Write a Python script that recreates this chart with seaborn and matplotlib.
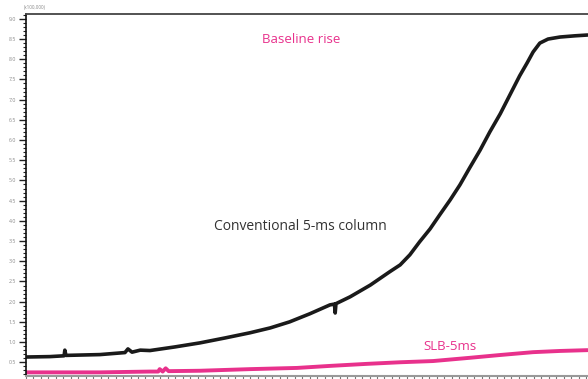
import numpy as np
import pandas as pd
import matplotlib
matplotlib.use("Agg")
import matplotlib.pyplot as plt
import seaborn as sns
from matplotlib.ticker import MultipleLocator, FixedLocator

# Conventional 5-ms column (values x100,000), time in minutes
conv_t = [0.0, 3.2, 5.1, 5.2, 5.35, 9.9, 13.25, 13.65, 14.2, 15.3, 16.6, 19.95, 23.3,
          26.6, 30.0, 32.7, 35.3, 38.0, 40.7, 41.3, 41.4, 41.5, 43.4, 46.1, 48.7,
          50.1, 51.4, 52.7, 54.1, 55.4, 56.8, 58.1, 59.4, 60.8, 62.1, 63.5, 64.8,
          66.1, 67.1, 67.9, 68.8, 69.9, 71.5, 73.5, 75.2]
conv_v = [0.63, 0.64, 0.66, 0.80, 0.67, 0.69, 0.74, 0.83, 0.75, 0.80, 0.79, 0.88, 0.98,
          1.10, 1.23, 1.35, 1.50, 1.70, 1.92, 1.94, 1.72, 1.95, 2.12, 2.41, 2.74,
          2.91, 3.16, 3.48, 3.80, 4.15, 4.52, 4.89, 5.31, 5.75, 6.20, 6.65, 7.12,
          7.59, 7.91, 8.18, 8.40, 8.50, 8.55, 8.58, 8.60]

# SLB-5ms column
slb_t = [0.0, 9.9, 16.6, 17.7, 17.9, 18.3, 18.7, 19.1, 23.3, 30.0, 36.3, 40.7,
         45.6, 50.1, 54.5, 59.4, 63.5, 67.9, 71.5, 75.2]
slb_v = [0.25, 0.25, 0.27, 0.27, 0.33, 0.27, 0.35, 0.28, 0.29, 0.33, 0.36, 0.41,
         0.46, 0.50, 0.53, 0.61, 0.68, 0.75, 0.78, 0.80]

y_major = [0.5, 1.0, 1.5, 2.0, 2.5, 3.0, 3.5, 4.0, 4.5, 5.0, 5.5, 6.0, 6.5,
           7.0, 7.5, 8.0, 8.5, 9.0]
y_labels = ["0.5", "1.0", "1.5", "2.0", "2.5", "3.0", "3.5", "4.0", "4.5", "5.0",
            "5.5", "6.0", "6.5", "7.0", "7.5", "8.0", "8.5", "9.0"]

PINK = "#e8318c"

sns.set_style("white")
plt.rcParams['font.family'] = ['Open Sans', 'DejaVu Sans']

fig = plt.figure(figsize=(5.88, 3.79), dpi=100)
ax = fig.add_axes([26 / 588, 3 / 379, 1 - 26 / 588, (376 - 14) / 379])

df_c = pd.DataFrame({"t": conv_t, "v": conv_v})
df_s = pd.DataFrame({"t": slb_t, "v": slb_v})
sns.lineplot(data=df_c, x="t", y="v", ax=ax, color="#1a1a1a", linewidth=2.6,
             sort=False, estimator=None)
sns.lineplot(data=df_s, x="t", y="v", ax=ax, color=PINK, linewidth=2.8,
             sort=False, estimator=None)

ax.set_xlim(0, 75.25)
ax.set_ylim(0.16, 9.12)
ax.set_xlabel("")
ax.set_ylabel("")

ax.yaxis.set_major_locator(FixedLocator(y_major))
ax.set_yticklabels(y_labels)
ax.yaxis.set_minor_locator(MultipleLocator(0.1))
ax.xaxis.set_major_locator(MultipleLocator(1))
ax.set_xticklabels([])

ax.tick_params(axis="y", which="major", direction="out", length=5, width=1,
               color="#222222", labelsize=3.8, labelcolor="#888888", pad=2, left=True)
ax.tick_params(axis="y", which="minor", direction="out", length=2.5, width=0.8,
               color="#222222", left=True)
ax.tick_params(axis="x", which="major", direction="out", length=2.5, width=0.8,
               color="#777777", bottom=True)

ax.spines["right"].set_visible(False)
ax.spines["left"].set_color("#111111")
ax.spines["left"].set_linewidth(1.2)
ax.spines["top"].set_color("#444444")
ax.spines["top"].set_linewidth(1.3)
ax.spines["bottom"].set_color("#999999")
ax.spines["bottom"].set_linewidth(1.5)

ax.text(36.8, 8.48, "Baseline rise", color=PINK, fontsize=9.5, ha="center", va="center")
ax.text(36.7, 3.85, "Conventional 5-ms column", color="#333333", fontsize=10,
        ha="center", va="center")
ax.text(56.8, 0.90, "SLB-5ms", color=PINK, fontsize=9.5, ha="center", va="center")

fig.text(35 / 588, 1 - 7 / 379, "(x100,000)", fontsize=3.3, color="#888888",
         ha="center", va="center")

fig.savefig("out.png", dpi=100)
